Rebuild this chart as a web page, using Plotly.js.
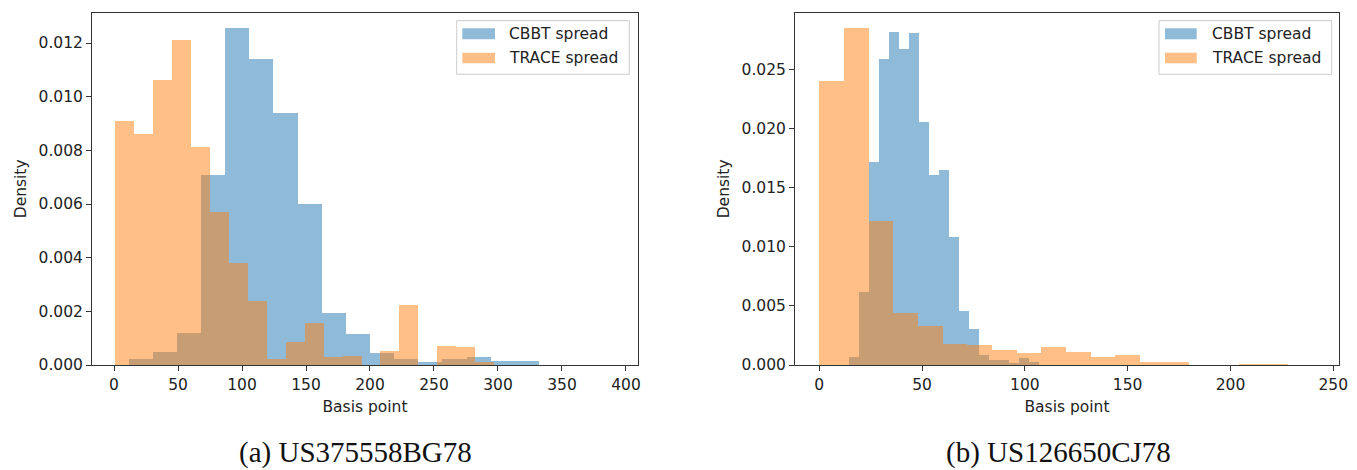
<!DOCTYPE html>
<html>
<head>
<meta charset="utf-8">
<script src="https://cdn.plot.ly/plotly-3.0.1.min.js"></script>
<style>html,body{margin:0;padding:0;background:#fff;}#chart{width:1357px;height:470px;}</style>
</head>
<body>
<div id="chart"></div>
<script>
// ---- Data ----
const seriesNames = ["CBBT spread", "TRACE spread"];
const captions = ["(a) US375558BG78", "(b) US126650CJ78"];

// Panel (a): histogram bins (start, width) and densities
const cbbtA_start = 11.5, cbbtA_width = 18.85;
const cbbtA = [0.00022, 0.00047, 0.0012, 0.0071, 0.01255, 0.01141, 0.00941, 0.00601, 0.00194, 0.00117, 0.00044, 0.00022, 0.0001, 0.00022, 0.0003, 0.000135, 0.000135];
const traceA_start = 1, traceA_width = 14.8;
const traceA = [0.0091, 0.00861, 0.01061, 0.01213, 0.00814, 0.00571, 0.00382, 0.00237, 0.00023, 0.00084, 0.00155, 0.00029, 0.00035, 0, 0.00053, 0.00225, 0, 0.00072, 0.00067, 0.00011];

// Panel (b)
const cbbtB_start = 14.6, cbbtB_width = 4.85;
const cbbtB = [0.00068, 0.00617, 0.0172, 0.02584, 0.02818, 0.02669, 0.02804, 0.02057, 0.0161, 0.0165, 0.01086, 0.00453, 0.00304, 0.00083, 0.00045, 0.00045, 0.00017, 0.00057, 0.00028];
const traceB_start = 0, traceB_width = 12;
const traceB = [0.02404, 0.02846, 0.01221, 0.00439, 0.00332, 0.0018, 0.00166, 0.00127, 0.00099, 0.00152, 0.0011, 0.00068, 0.00081, 0.00025, 0.00025, 0, 0, 0.00011, 0.00011];

// Tick labels
const xTicksA = [0, 50, 100, 150, 200, 250, 300, 350, 400];
const yTicksA = [0, 0.002, 0.004, 0.006, 0.008, 0.010, 0.012];
const xTicksB = [0, 50, 100, 150, 200, 250];
const yTicksB = [0, 0.005, 0.010, 0.015, 0.020, 0.025];

// ---- Styling ----
const W = 1357, H = 470;
const px = x => x / W;
const py = y => 1 - y / H;
const BLUE = 'rgba(31,119,180,0.5)';
const ORANGE = 'rgba(255,127,14,0.5)';
const FONT = 'DejaVu Sans, sans-serif';
const FS = 15.5;
const TXT = '#222222';

function edges(start, width, vals) { return vals.map((_, i) => start + i * width); }

function histTrace(start, width, vals, color, name, xa, ya) {
  return {
    type: 'bar', name: name,
    x: edges(start, width, vals), y: vals,
    width: width, offset: 0,
    marker: { color: color, line: { width: 0 } },
    xaxis: xa, yaxis: ya, showlegend: false, hoverinfo: 'x+y'
  };
}

const data = [
  histTrace(cbbtA_start, cbbtA_width, cbbtA, BLUE, seriesNames[0], 'x', 'y'),
  histTrace(traceA_start, traceA_width, traceA, ORANGE, seriesNames[1], 'x', 'y'),
  histTrace(cbbtB_start, cbbtB_width, cbbtB, BLUE, seriesNames[0], 'x2', 'y2'),
  histTrace(traceB_start, traceB_width, traceB, ORANGE, seriesNames[1], 'x2', 'y2')
];

function xAxis(domain, range, ticks, anchor) {
  return {
    domain: domain, range: range, anchor: anchor,
    tickmode: 'array', tickvals: ticks, ticktext: ticks.map(String),
    ticks: 'outside', ticklen: 5, tickwidth: 1, tickcolor: '#333',
    showline: true, mirror: true, linecolor: '#333', linewidth: 1,
    showgrid: false, zeroline: false,
    tickfont: { family: FONT, size: FS, color: TXT },
    title: { text: 'Basis point', font: { family: FONT, size: FS, color: TXT }, standoff: 8 }
  };
}
function yAxis(domain, range, ticks, anchor) {
  return {
    domain: domain, range: range, anchor: anchor,
    tickmode: 'array', tickvals: ticks, ticktext: ticks.map(v => v.toFixed(3)),
    ticks: 'outside', ticklen: 5, tickwidth: 1, tickcolor: '#333',
    showline: true, mirror: true, linecolor: '#333', linewidth: 1,
    showgrid: false, zeroline: false,
    tickfont: { family: FONT, size: FS, color: TXT },
    title: { text: 'Density', font: { family: FONT, size: FS, color: TXT }, standoff: 8 }
  };
}

const yDom = [py(365), py(12.7)];

// manual legends (matplotlib-style wide patches)
const shapes = [];
const annotations = [];
function legend(box, patchX0, patchX1, textX) {
  shapes.push({ type: 'rect', xref: 'paper', yref: 'paper', layer: 'above',
    x0: px(box[0]), x1: px(box[1]), y0: py(box[3]), y1: py(box[2]),
    line: { color: '#cccccc', width: 1 }, fillcolor: 'rgba(255,255,255,0.8)' });
  const rows = [[28.3, 39.3], [52.7, 63.3]];
  const cols = [BLUE, ORANGE];
  rows.forEach((r, i) => {
    shapes.push({ type: 'rect', xref: 'paper', yref: 'paper', layer: 'above',
      x0: px(patchX0), x1: px(patchX1), y0: py(r[1]), y1: py(r[0]),
      line: { width: 0 }, fillcolor: cols[i] });
    annotations.push({ xref: 'paper', yref: 'paper', x: px(textX), y: py((r[0] + r[1]) / 2),
      xanchor: 'left', yanchor: 'middle', showarrow: false, text: seriesNames[i],
      font: { family: FONT, size: FS, color: TXT } });
  });
}
legend([456.7, 629.3, 20.7, 74.3], 462.3, 495, 506.5);
legend([1159, 1331.7, 20.7, 74.3], 1165, 1196.7, 1209.5);

annotations.push({ xref: 'paper', yref: 'paper', x: px(355), y: py(452), xanchor: 'center', yanchor: 'middle',
  showarrow: false, text: captions[0], font: { family: 'Liberation Serif, serif', size: 29, color: '#111' } });
annotations.push({ xref: 'paper', yref: 'paper', x: px(1058), y: py(452), xanchor: 'center', yanchor: 'middle',
  showarrow: false, text: captions[1], font: { family: 'Liberation Serif, serif', size: 29, color: '#111' } });

const layout = {
  width: W, height: H,
  margin: { l: 0, r: 0, t: 0, b: 0 },
  paper_bgcolor: '#ffffff', plot_bgcolor: '#ffffff',
  barmode: 'overlay', bargap: 0,
  showlegend: false,
  xaxis: xAxis([px(92), px(638)], [-17.2, 409.4], xTicksA, 'y'),
  yaxis: yAxis(yDom, [0, 0.01313], yTicksA, 'x'),
  xaxis2: xAxis([px(795), px(1339)], [-11.8, 252.8], xTicksB, 'y2'),
  yaxis2: yAxis(yDom, [0, 0.02978], yTicksB, 'x2'),
  shapes: shapes,
  annotations: annotations
};

Plotly.newPlot('chart', data, layout, { displayModeBar: false, staticPlot: true });
</script>
</body>
</html>
